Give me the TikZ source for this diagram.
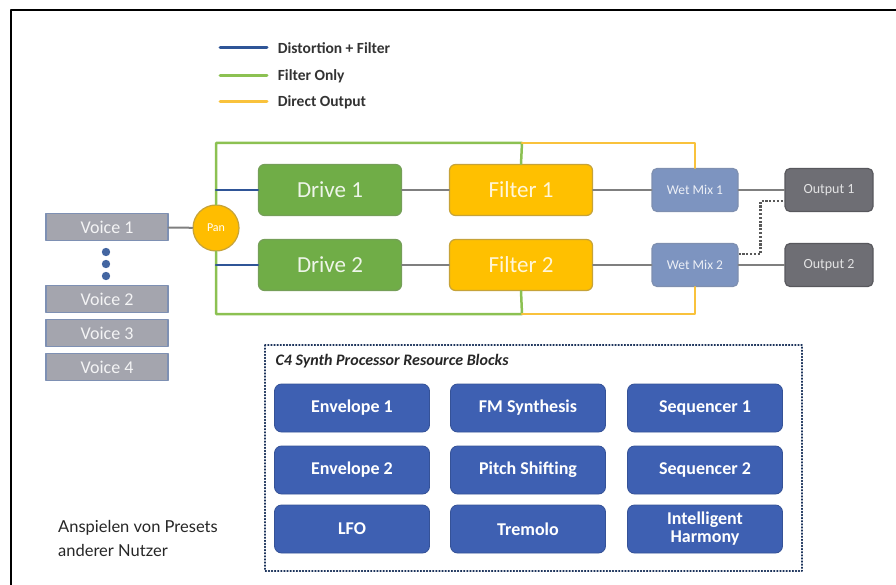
\documentclass[tikz,border=0pt]{standalone}
\usepackage{fontspec}
\setmainfont{Carlito}
\newfontfamily\notefont{Lato}
\definecolor{lgblue}{HTML}{2F5597}
\definecolor{lggreen}{HTML}{8CC152}
\definecolor{lgorange}{HTML}{F9C23C}
\definecolor{drivegreen}{HTML}{70AD47}
\definecolor{filteryellow}{HTML}{FFC000}
\definecolor{wetblue}{HTML}{7D94C0}
\definecolor{outgray}{HTML}{6E6E74}
\definecolor{voicegray}{HTML}{A4A5AE}
\definecolor{resblue}{HTML}{3E60B2}
\definecolor{wiregray}{HTML}{7F7F7F}
\begin{document}
\begin{tikzpicture}[x=1pt,y=-1pt,line join=round,line cap=round,
  box/.style={draw,rounded corners=6pt,line width=1.2pt,minimum width=143pt,minimum height=51pt,font=\fontsize{23}{26}\selectfont},
  drive/.style={box,fill=drivegreen,draw=drivegreen!70!gray,text=white!88!drivegreen},
  filt/.style={box,fill=filteryellow,draw=filteryellow!55!gray,text=white!85!filteryellow},
  small/.style={draw,rounded corners=5pt,line width=1.2pt,minimum width=86pt,minimum height=43pt,font=\fontsize{13.5}{15}\selectfont},
  wet/.style={small,fill=wetblue,draw=wetblue!75!gray,text=white!85!wetblue},
  outp/.style={small,minimum width=88pt,fill=outgray,draw=outgray!80!black,text=white!80!outgray,font=\fontsize{14}{16}\selectfont},
  voice/.style={draw=wetblue!80!gray,line width=1.2pt,fill=voicegray,minimum width=122pt,minimum height=27pt,text=white!88!voicegray,font=\fontsize{18}{20}\selectfont},
  res/.style={draw=resblue!85!black,rounded corners=7pt,line width=0.8pt,fill=resblue,text=white,minimum width=155pt,minimum height=48pt,align=center,font=\fontsize{18}{18}\selectfont\bfseries},
  legtext/.style={right=6pt,black!80,font=\fontsize{15.5}{17}\selectfont\bfseries},
  wire/.style={wiregray,line width=2pt},
  route/.style={line width=2.5pt}]
\useasboundingbox (0,0) rectangle (896,585);
\def\rowA{190} \def\rowB{265} % rows of the two chains
% frame
\draw[line width=1.5pt] (896,10) -- (11,10) -- (11,585);
% legend
\draw[lgblue,line width=3pt] (220,48) -- (267,48) node[legtext]{Distortion + Filter};
\draw[lggreen,line width=3pt] (220,76) -- (267,76) node[legtext]{Filter Only};
\draw[lgorange,line width=3pt] (220,102) -- (267,102) node[legtext]{Direct Output};
% voices
\node[voice] (v1) at (107,227) {Voice 1};
\node[voice] (v2) at (107,299) {Voice 2};
\node[voice] (v3) at (107,333) {Voice 3};
\node[voice] (v4) at (107,367) {Voice 4};
\foreach \y in {252,264,276} \fill[lgblue!90!white] (106,\y) circle(4.2);
% chains
\node[circle,draw=filteryellow!55!gray,line width=1.2pt,fill=filteryellow!96!orange,minimum size=46pt,inner sep=0pt,text=white,font=\fontsize{12}{14}\selectfont] (pan) at (216,228) {Pan};
\node[drive] (d1) at (330,\rowA) {Drive 1};
\node[drive] (d2) at (330,\rowB) {Drive 2};
\node[filt] (f1) at (521,\rowA) {Filter 1};
\node[filt] (f2) at (521,\rowB) {Filter 2};
\node[wet] (w1) at (695,\rowA) {Wet Mix 1};
\node[wet] (w2) at (695,\rowB) {Wet Mix 2};
\node[outp] (o1) at (829,\rowA) {Output 1};
\node[outp] (o2) at (829,\rowB) {Output 2};
\coordinate (gtop) at (522,143);
\coordinate (gbot) at (522,314);
% routing
\draw[route,lggreen] (pan.north) |- (gtop) -- (f1.north);
\draw[route,lggreen] (pan.south) |- (gbot) -- (f2.south);
\draw[route,lgorange] (gtop) -| (w1.north);
\draw[route,lgorange] (gbot) -| (w2.south);
\draw[route,lgblue] (pan|-d1) -- (d1.west);
\draw[route,lgblue] (pan|-d2) -- (d2.west);
\draw[wire] (v1) -- (pan);
\draw[wire] (d1) -- (f1); \draw[wire] (f1) -- (w1); \draw[wire] (w1) -- (o1);
\draw[wire] (d2) -- (f2); \draw[wire] (f2) -- (w2); \draw[wire] (w2) -- (o2);
\draw[black!65,line width=2.5pt,line cap=butt,dash pattern=on 2.2pt off 1.6pt] ([yshift=11pt]w2.east) -- ++(22,0) |- ([yshift=-11pt]o1.west);
% resource blocks
\draw[lgblue!60!black,line width=1.1pt,dotted] (265,345) rectangle (802,571);
\node[anchor=west,black!85,font=\fontsize{16}{18}\selectfont\bfseries\itshape] (title) at (272,361) {C4 Synth Processor Resource Blocks};
\foreach \nm/\cx/\cy/\txt in {env1/352/408/Envelope 1, fm/528/408/FM Synthesis, seq1/705/408/Sequencer 1,
  env2/352/470/Envelope 2, pitch/528/470/Pitch Shifting, seq2/705/470/Sequencer 2,
  lfo/352/529/LFO, trem/528/529/Tremolo, harm/705/529/{Intelligent\\Harmony}}
  \node[res] (\nm) at (\cx,\cy) {\txt};
% note
\node[anchor=north west,inner sep=0pt,align=left,black!85,font=\notefont\fontsize{16.5}{24}\selectfont] (note) at (58,520) {Anspielen von Presets\\anderer Nutzer};
\end{tikzpicture}
\end{document}
